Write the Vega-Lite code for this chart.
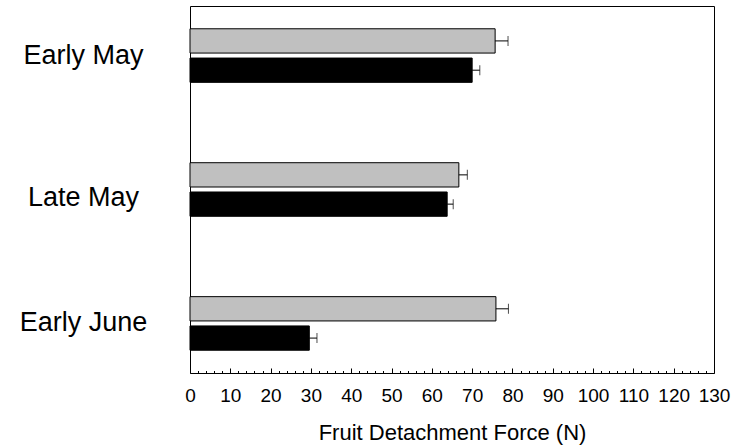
{
  "$schema": "https://vega.github.io/schema/vega-lite/v6.json",
  "width": 524,
  "height": 367,
  "autosize": {"type": "none"},
  "padding": {"left": 190, "top": 6, "right": 17, "bottom": 75},
  "background": "white",
  "config": {
    "view": {"stroke": "black", "strokeWidth": 1},
    "font": "Liberation Sans",
    "axis": {"grid": false}
  },
  "data": {
    "values": [
      {"period": "Early May", "series": "Series 1", "mean": 75.7, "upper": 78.9},
      {"period": "Early May", "series": "Series 2", "mean": 70.0, "upper": 71.9},
      {"period": "Late May", "series": "Series 1", "mean": 66.7, "upper": 68.8},
      {"period": "Late May", "series": "Series 2", "mean": 63.8, "upper": 65.3},
      {"period": "Early June", "series": "Series 1", "mean": 75.9, "upper": 79.0},
      {"period": "Early June", "series": "Series 2", "mean": 29.6, "upper": 31.5}
    ]
  },
  "resolve": {"axis": {"x": "independent"}},
  "encoding": {
    "y": {
      "field": "period",
      "type": "nominal",
      "sort": ["Early May", "Late May", "Early June"],
      "scale": {"paddingInner": 0.6, "paddingOuter": 0.17},
      "axis": {
        "title": null,
        "ticks": false,
        "tickSize": 0,
        "domain": false,
        "labelFontSize": 27,
        "labelColor": "black",
        "labelAlign": "center",
        "labelBaseline": "middle",
        "labelPadding": 107,
        "labelOffset": {"condition": {"test": "datum.value === 'Late May'", "value": 8}, "value": 0}
      }
    },
    "yOffset": {
      "field": "series",
      "type": "nominal",
      "sort": ["Series 1", "Series 2"],
      "scale": {"paddingInner": 0.17, "paddingOuter": 0}
    }
  },
  "layer": [
    {
      "mark": {"type": "bar", "stroke": "black", "strokeWidth": 1},
      "encoding": {
        "x": {
          "field": "mean",
          "type": "quantitative",
          "title": "Fruit Detachment Force (N)",
          "scale": {"domain": [0, 130], "nice": false, "zero": true},
          "axis": {
            "orient": "bottom",
            "titleFontSize": 22,
            "titleFontWeight": "normal",
            "titleColor": "black",
            "titlePadding": 15,
            "labelFontSize": 19,
            "labelColor": "black",
            "labelFlush": false,
            "labelOverlap": false,
            "labelPadding": 18,
            "domain": false,
            "tickColor": "black",
            "tickWidth": 1,
            "values": [0, 2, 4, 6, 8, 10, 12, 14, 16, 18, 20, 22, 24, 26, 28, 30, 32, 34, 36, 38, 40, 42, 44, 46, 48, 50, 52, 54, 56, 58, 60, 62, 64, 66, 68, 70, 72, 74, 76, 78, 80, 82, 84, 86, 88, 90, 92, 94, 96, 98, 100, 102, 104, 106, 108, 110, 112, 114, 116, 118, 120, 122, 124, 126, 128, 130],
            "labelExpr": "datum.value % 10 === 0 ? datum.label : ''",
            "tickSize": {"condition": {"test": "datum.value % 10 === 0", "value": -5}, "value": -2.5}
          }
        },
        "fill": {
          "field": "series",
          "type": "nominal",
          "scale": {"domain": ["Series 1", "Series 2"], "range": ["#c0c0c0", "#000000"]},
          "legend": null
        }
      }
    },
    {
      "mark": {"type": "rule", "color": "black", "strokeWidth": 1},
      "encoding": {
        "x": {"field": "mean", "type": "quantitative", "axis": null},
        "x2": {"field": "upper"}
      }
    },
    {
      "mark": {"type": "tick", "color": "black", "thickness": 1, "size": 10, "orient": "vertical"},
      "encoding": {
        "x": {"field": "upper", "type": "quantitative", "axis": null}
      }
    }
  ]
}
